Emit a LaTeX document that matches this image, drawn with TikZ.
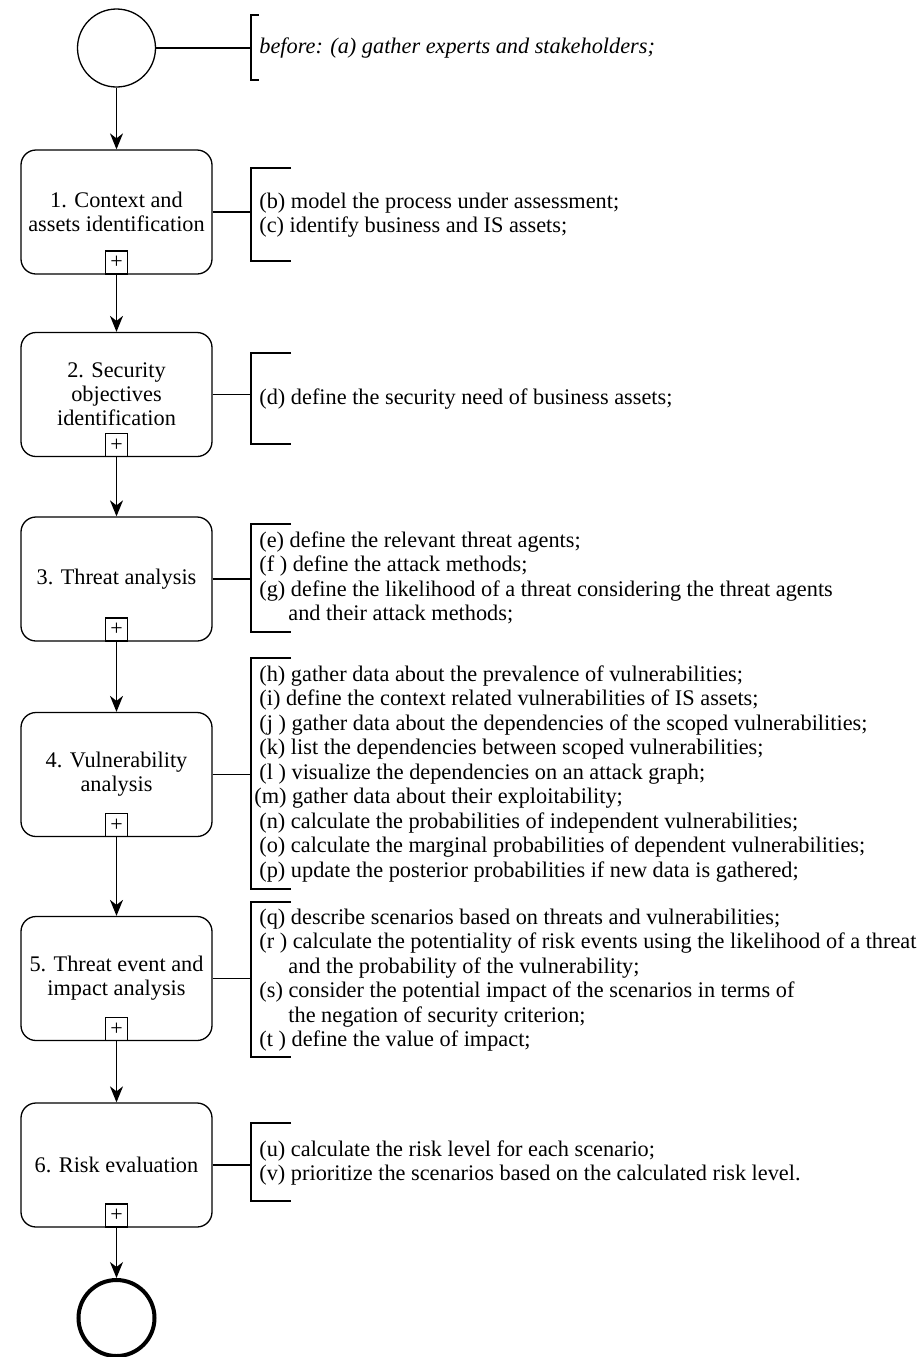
\documentclass[tikz,border=0pt]{standalone}
\usepackage{fontspec}
\setmainfont{Liberation Serif}
\usetikzlibrary{arrows.meta,positioning}

\tikzset{
	task/.style={draw, rounded corners=7.5pt, line width=0.65pt, minimum width=95.5pt, minimum height=62pt, align=center, inner sep=2pt, font=\fontsize{11.15}{12}\selectfont},
	subproc/.style={draw, line width=0.65pt, minimum width=11pt, minimum height=11.5pt, inner sep=0pt, anchor=south, font=\fontsize{11}{11}\selectfont},
	startev/.style={draw, circle, line width=0.65pt, minimum size=39pt, inner sep=0pt},
	endev/.style={draw, circle, line width=2pt, minimum size=38pt, inner sep=0pt},
	flow/.style={line width=0.65pt, -{Stealth[length=8pt,width=6.5pt,inset=2.5pt]}},
	assoc/.style={line width=0.65pt},
	annot/.style={anchor=west, align=left, inner sep=0pt, font=\fontsize{11.15}{12.25}\selectfont},
}

\begin{document}
\begin{tikzpicture}[x=0.5pt, y=-0.5pt]
	\useasboundingbox (0,0) rectangle (920,1357);

	% events and tasks
	\node[startev] (start) at (116.5,48) {};
	\node[task] (t1) at (116.5,212) {1. Context and\\assets identification};
	\node[task] (t2) at (116.5,394.5) {2. Security\\objectives\\identification};
	\node[task] (t3) at (116.5,579) {3. Threat analysis};
	\node[task] (t4) at (116.5,774.5) {4. Vulnerability\\analysis};
	\node[task] (t5) at (116.5,978.5) {5. Threat event and\\impact analysis};
	\node[task] (t6) at (116.5,1165) {6. Risk evaluation};
	\node[endev] (end) at (116.5,1318) {};
	\foreach \t in {t1,t2,t3,t4,t5,t6}
		\node[subproc] (p\t) at (\t.south) {+};

	% sequence flow
	\draw[flow] (start.south) -- (t1.north);
	\draw[flow] (t1.south) -- (t2.north);
	\draw[flow] (t2.south) -- (t3.north);
	\draw[flow] (t3.south) -- (t4.north);
	\draw[flow] (t4.south) -- (t5.north);
	\draw[flow] (t5.south) -- (t6.north);
	\draw[flow] (t6.south) -- (end.north);

	% annotations
	\coordinate (a0) at (251,48);
	\draw[assoc] (259,15) -| (251,80) -- (259,80);
	\draw[assoc] (start.east) -- (a0);
	\foreach \n/\y/\top/\bot in {1/212/168/261, 2/394.5/353/444, 3/579/524/632, 4/774.5/658/889, 5/978.5/902/1057, 6/1165/1123/1201} {
		\coordinate (a\n) at (251,\y);
		\draw[assoc] (291,\top) -| (251,\bot) -- (291,\bot);
		\draw[assoc] (t\n.east) -- (a\n);
	}

	\node[annot] (n0) at (259,48) {\itshape before: (a) gather experts and stakeholders;};
	\node[annot] (n1) at (259,215) {(b) model the process under assessment;\\(c) identify business and IS assets;};
	\node[annot] (n2) at (259,399) {(d) define the security need of business assets;};
	\node[annot] (n3) at (259,578) {(e) define the relevant threat agents;\\(f ) define the attack methods;\\(g) define the likelihood of a threat considering the threat agents\\\hspace*{14.5pt}and their attack methods;};
	\node[annot] (n4) at (259,774) {(h) gather data about the prevalence of vulnerabilities;\\(i) define the context related vulnerabilities of IS assets;\\(j ) gather data about the dependencies of the scoped vulnerabilities;\\(k) list the dependencies between scoped vulnerabilities;\\(l ) visualize the dependencies on an attack graph;\\\hspace*{-2.5pt}(m) gather data about their exploitability;\\(n) calculate the probabilities of independent vulnerabilities;\\(o) calculate the marginal probabilities of dependent vulnerabilities;\\(p) update the posterior probabilities if new data is gathered;};
	\node[annot] (n5) at (259,980) {(q) describe scenarios based on threats and vulnerabilities;\\(r ) calculate the potentiality of risk events using the likelihood of a threat\\\hspace*{14.5pt}and the probability of the vulnerability;\\(s) consider the potential impact of the scenarios in terms of\\\hspace*{14.5pt}the negation of security criterion;\\(t ) define the value of impact;};
	\node[annot] (n6) at (259,1163) {(u) calculate the risk level for each scenario;\\(v) prioritize the scenarios based on the calculated risk level.};
\end{tikzpicture}
\end{document}
